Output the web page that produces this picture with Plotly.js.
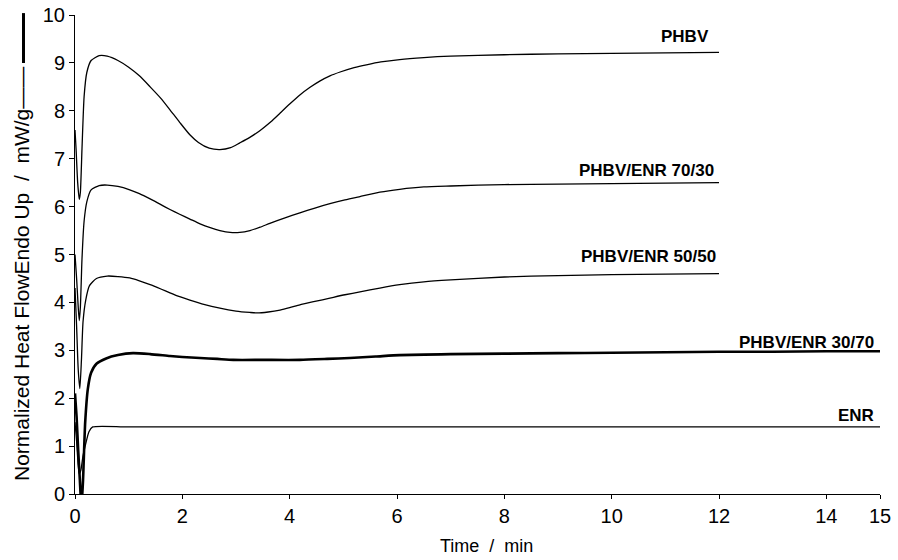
<!DOCTYPE html>
<html>
<head>
<meta charset="utf-8">
<script src="https://cdn.plot.ly/plotly-3.0.1.min.js"></script>
<style>html,body{margin:0;padding:0;background:#fff;}#chart{width:898px;height:560px;}</style>
</head>
<body>
<div id="chart"></div>
<script>
// Time (min) and normalized heat flow (mW/g) per sample
const phbvX = [0,0.02,0.05,0.08,0.1,0.13,0.17,0.22,0.3,0.45,0.6,0.8,1.0,1.2,1.4,1.6,1.77,1.95,2.14,2.3,2.5,2.7,2.9,3.07,3.25,3.45,3.65,3.82,4.0,4.19,4.38,4.56,4.75,4.94,5.2,5.43,5.7,6.05,6.5,7,8,9,10,11,12];
const phbvY = [7.6,7.2,6.5,6.15,6.3,7.2,8.3,8.8,9.05,9.15,9.14,9.05,8.91,8.73,8.5,8.26,8.02,7.76,7.5,7.34,7.22,7.19,7.23,7.33,7.44,7.59,7.77,7.95,8.14,8.33,8.49,8.62,8.73,8.81,8.9,8.96,9.02,9.07,9.11,9.14,9.17,9.19,9.2,9.21,9.22];

const b7030X = [0,0.03,0.06,0.08,0.1,0.13,0.17,0.22,0.3,0.45,0.6,0.8,1.02,1.2,1.4,1.6,1.77,1.95,2.14,2.33,2.52,2.7,2.89,3.07,3.26,3.45,3.63,3.9,4.19,4.47,4.75,5.03,5.31,5.68,6.05,6.5,7,8,9,10,11,12];
const b7030Y = [5.0,4.5,3.9,3.62,3.9,4.9,5.7,6.1,6.35,6.44,6.45,6.42,6.35,6.27,6.16,6.04,5.94,5.84,5.74,5.64,5.56,5.5,5.46,5.46,5.5,5.57,5.65,5.76,5.87,5.97,6.06,6.14,6.21,6.3,6.36,6.41,6.43,6.46,6.47,6.48,6.49,6.5];

const b5050X = [0,0.03,0.06,0.09,0.12,0.15,0.2,0.27,0.4,0.6,0.8,1.02,1.2,1.4,1.6,1.77,1.95,2.14,2.4,2.7,3.0,3.26,3.39,3.6,3.82,4.0,4.19,4.47,4.75,5.03,5.31,5.68,6.05,6.5,7,8,9,10,11,12];
const b5050Y = [4.3,3.5,2.6,2.2,2.8,3.6,4.05,4.35,4.5,4.55,4.54,4.51,4.45,4.37,4.28,4.2,4.12,4.05,3.96,3.88,3.82,3.79,3.78,3.8,3.84,3.89,3.95,4.02,4.09,4.16,4.22,4.3,4.37,4.43,4.47,4.53,4.56,4.58,4.59,4.6];

const b3070X = [0,0.03,0.06,0.09,0.12,0.15,0.19,0.24,0.3,0.4,0.58,0.8,1.08,1.4,1.77,2.0,2.33,2.65,2.95,3.5,4.19,4.7,5.12,5.6,6.05,7,8,9,10,11,12,13,14,15];
const b3070Y = [2.1,1.6,0.9,0.3,-0.3,0.3,1.5,2.2,2.53,2.72,2.83,2.9,2.94,2.92,2.88,2.86,2.84,2.82,2.8,2.8,2.8,2.82,2.84,2.87,2.9,2.92,2.93,2.94,2.95,2.96,2.97,2.97,2.98,2.98];

const enrX = [0,0.03,0.06,0.08,0.11,0.15,0.2,0.26,0.33,1,5,10,15];
const enrY = [1.5,1.1,0.6,0.42,0.5,0.8,1.05,1.3,1.4,1.4,1.4,1.4,1.4];

const seriesNames = ["PHBV","PHBV/ENR 70/30","PHBV/ENR 50/50","PHBV/ENR 30/70","ENR"];
const labelX = [11.85, 11.94, 11.98, 14.92, 14.92];
const labelY = [9.56, 6.76, 4.95, 3.17, 1.63];
const xTicks = [0,2,4,6,8,10,12,14,15];
const yTicks = [0,1,2,3,4,5,6,7,8,9,10];

const xs = [phbvX, b7030X, b5050X, b3070X, enrX];
const ys = [phbvY, b7030Y, b5050Y, b3070Y, enrY];
const widths = [1.3, 1.3, 1.3, 2.6, 1.3];

const traces = xs.map((x, i) => ({
  x: x, y: ys[i], type: 'scatter', mode: 'lines', name: seriesNames[i],
  line: {color: '#000', width: widths[i], shape: 'spline', smoothing: 0.6}, hoverinfo: 'skip'
}));

const fnt = 'Arial, "Liberation Sans", sans-serif';
const annotations = seriesNames.map((t, i) => ({
  x: labelX[i], y: labelY[i], xref: 'x', yref: 'y', text: '<b>' + t + '</b>',
  showarrow: false, xanchor: 'right', yanchor: 'middle',
  font: {family: fnt, size: 17, color: '#000'}
}));
annotations.push({
  x: -0.0658, y: 0.023, xref: 'paper', yref: 'paper', textangle: -90,
  text: 'Normalized Heat FlowEndo Up  /  mW/g——', showarrow: false,
  xanchor: 'center', yanchor: 'bottom', font: {family: fnt, size: 21, color: '#000'}
});
annotations.push({
  x: 0.5106, y: -0.1086, xref: 'paper', yref: 'paper',
  text: 'Time  /  min', showarrow: false,
  xanchor: 'center', yanchor: 'middle', font: {family: fnt, size: 18, color: '#000'}
});

const layout = {
  width: 898, height: 560,
  margin: {l: 75, r: 18, t: 15, b: 66},
  paper_bgcolor: '#fff', plot_bgcolor: '#fff',
  showlegend: false,
  font: {family: fnt, color: '#000'},
  xaxis: {
    range: [0, 15], tickvals: xTicks, ticktext: xTicks.map(String),
    showgrid: false, zeroline: false, showline: true, linecolor: '#000', linewidth: 1,
    ticks: 'outside', ticklen: 4, tickcolor: '#000', tickfont: {family: fnt, size: 20}
  },
  yaxis: {
    range: [0, 10], tickvals: yTicks,
    showgrid: false, zeroline: false, showline: true, linecolor: '#000', linewidth: 1,
    ticks: 'outside', ticklen: 5, tickcolor: '#000', tickfont: {family: fnt, size: 20}
  },
  annotations: annotations,
  shapes: [{type: 'line', xref: 'paper', yref: 'paper', x0: -0.064, x1: -0.064, y0: 1.004, y1: 0.8998,
    line: {color: '#000', width: 3}}]
};

Plotly.newPlot('chart', traces, layout, {displayModeBar: false, staticPlot: true});
</script>
</body>
</html>
